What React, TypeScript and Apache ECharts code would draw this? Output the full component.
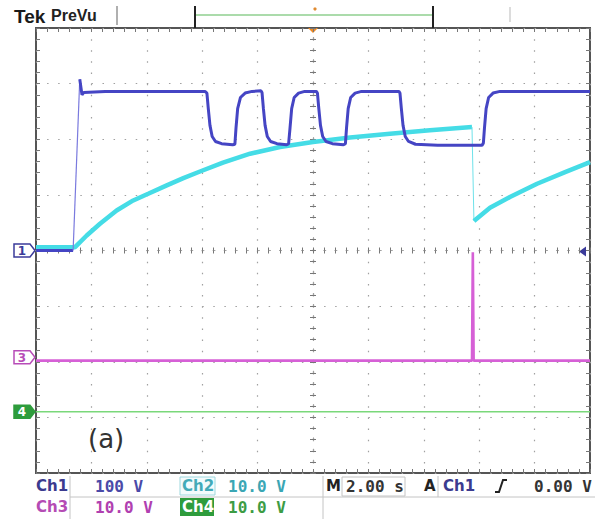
import React, { useEffect, useRef } from "react";
import * as echarts from "echarts";

// Time axis: seconds relative to the trigger point (2.00 s/div, 10 divisions)
const timeMin = -10;
const timeMax = 10;
const timePerDiv = 2;
// Vertical axis in graticule divisions (8 divisions)
const divMin = -4;
const divMax = 4;

// Ch1 (100 V/div) – values in divisions
const ch1Ground: number[][] = [[-10, 0], [-8.66, 0]];
const ch1RisingEdge: number[][] = [[-8.66, 0], [-8.42, 3.08]];
const ch1Pulses: number[][] = [
  [-8.42, 3.08], [-8.34, 2.8], [-8.28, 2.84], [-7.5, 2.86], [-6, 2.86], [-3.9, 2.86],
  [-3.83, 2.83], [-3.78, 2.55], [-3.72, 2.25], [-3.64, 2.05], [-3.52, 1.96], [-3.3, 1.92], [-2.9, 1.9],
  [-2.82, 1.91], [-2.78, 2.2], [-2.72, 2.55], [-2.62, 2.75], [-2.45, 2.83], [-2.2, 2.86], [-1.88, 2.87],
  [-1.84, 2.84], [-1.79, 2.55], [-1.73, 2.25], [-1.65, 2.05], [-1.53, 1.96], [-1.3, 1.92], [-0.95, 1.9],
  [-0.88, 1.92], [-0.83, 2.2], [-0.77, 2.55], [-0.68, 2.75], [-0.52, 2.83], [-0.3, 2.86], [0.12, 2.86],
  [0.16, 2.83], [0.21, 2.55], [0.27, 2.25], [0.35, 2.05], [0.47, 1.96], [0.7, 1.92], [1.1, 1.9],
  [1.17, 1.92], [1.21, 2.2], [1.27, 2.55], [1.36, 2.75], [1.52, 2.83], [1.75, 2.86], [3.1, 2.86],
  [3.14, 2.83], [3.19, 2.55], [3.25, 2.25], [3.33, 2.05], [3.45, 1.96], [3.7, 1.91], [4.5, 1.89], [6.1, 1.89],
  [6.15, 1.93], [6.19, 2.2], [6.25, 2.55], [6.34, 2.75], [6.5, 2.83], [6.75, 2.86], [10, 2.86],
];

// Ch2 (10.0 V/div)
const ch2Charge: number[][] = [
  [-10, 0.06], [-8.59, 0.06], [-8.17, 0.27], [-7.69, 0.48], [-7.09, 0.72], [-6.49, 0.9], [-5.95, 1.02],
  [-5.28, 1.17], [-4.68, 1.3], [-4.08, 1.42], [-3.25, 1.58], [-2.27, 1.74], [-1.19, 1.86], [0, 1.95],
  [1.34, 2.03], [2.78, 2.1], [4.22, 2.16], [5.74, 2.22],
];
const ch2Drop: number[][] = [[5.74, 2.22], [5.81, 0.53]];
const ch2Recharge: number[][] = [
  [5.81, 0.53], [6.39, 0.77], [7.11, 0.96], [8.09, 1.2], [9.1, 1.41], [10, 1.59],
];

// Ch3 (10.0 V/div)
const ch3Trace: number[][] = [[-10, -1.98], [5.74, -1.98], [5.77, -0.03], [5.8, -1.98], [10, -1.98]];
// Ch4 (10.0 V/div)
const ch4Trace: number[][] = [[-10, -2.9], [10, -2.9]];

const markerLabels = ["1", "3", "4"];
const markerLevels = [0, -1.92, -2.9];
const triggerLevel = 0;

const scaleRow1 = ["Ch1", "100 V", "Ch2", "10.0 V"];
const scaleRow2 = ["Ch3", "10.0 V", "Ch4", "10.0 V"];
const timebase = ["M", "2.00 s", "A", "Ch1", "0.00 V"];
const headerTexts = ["Tek", "PreVu"];
const panelLabel = "(a)";

const C1 = "#4545c4";
const C2 = "#45dce6";
const C3 = "#d660d6";
const C4 = "#7ad87a";

const LABEL_FONT = 'bold 15px "DejaVu Sans"';
const VALUE_FONT = 'bold 16px "DejaVu Sans Mono"';

function txt(text: string, x: number, y: number, fill: string, font: string, align = "left") {
  return {
    type: "text",
    x,
    y,
    silent: true,
    style: { text, fill, font, align, textAlign: align, verticalAlign: "middle", textVerticalAlign: "middle" },
  };
}
function ln(x1: number, y1: number, x2: number, y2: number, stroke: string, lineWidth = 1) {
  return { type: "line", silent: true, shape: { x1, y1, x2, y2 }, style: { stroke, lineWidth } };
}

export default function App() {
  const ref = useRef<HTMLDivElement>(null);
  useEffect(() => {
    if (!ref.current) return;
    const chart = echarts.init(ref.current, undefined, { renderer: "svg" });
    const tickStyle = { color: "#777", width: 1 };
    const xBase: any = {
      type: "value",
      min: timeMin,
      max: timeMax,
      interval: timePerDiv,
      axisLabel: { show: false },
      splitLine: { show: false },
      axisLine: { show: false, onZero: false },
      axisTick: { show: true, inside: true, length: 4, lineStyle: tickStyle },
      minorTick: { show: true, splitNumber: 5, length: 4, lineStyle: tickStyle },
    };
    const yBase: any = {
      type: "value",
      min: divMin,
      max: divMax,
      interval: 1,
      axisLabel: { show: false },
      splitLine: { show: false },
      axisLine: { show: false, onZero: false },
      axisTick: { show: true, inside: true, length: 4, lineStyle: tickStyle },
      minorTick: { show: true, splitNumber: 5, length: 4, lineStyle: tickStyle },
    };
    const dotV = { color: "#a0a0a0", width: 1.2, type: [1.5, 9.625] };
    const dotH = { color: "#a0a0a0", width: 1.2, type: [1.5, 9.58] };
    const centerLine = (style: any) => ({ show: true, onZero: true, onZeroAxisIndex: 0, lineStyle: style });

    const lineSeries = (data: number[][], color: string, width: number, z: number) => ({
      type: "line",
      data,
      showSymbol: false,
      symbol: "none",
      silent: true,
      z,
      lineStyle: { color, width },
    });

    chart.setOption({
      animation: false,
      backgroundColor: "#ffffff",
      grid: { left: 36, top: 28, width: 554, height: 445, show: true, borderColor: "#555", borderWidth: 2 },
      xAxis: [
        { ...xBase, position: "bottom", splitLine: { show: true, lineStyle: dotV } },
        { ...xBase, position: "top" },
        { ...xBase, position: "bottom", axisLine: centerLine(dotH), axisTick: { ...xBase.axisTick, inside: true, length: 3 }, minorTick: { ...xBase.minorTick, length: 3 } },
        { ...xBase, position: "bottom", axisLine: centerLine(dotH), axisTick: { ...xBase.axisTick, inside: false, length: 3 }, minorTick: { ...xBase.minorTick, length: 3 } },
      ],
      yAxis: [
        { ...yBase, position: "left", splitLine: { show: true, lineStyle: dotH } },
        { ...yBase, position: "right" },
        { ...yBase, position: "left", axisLine: centerLine(dotV), axisTick: { ...yBase.axisTick, inside: true, length: 3 }, minorTick: { ...yBase.minorTick, length: 3 } },
        { ...yBase, position: "left", axisLine: centerLine(dotV), axisTick: { ...yBase.axisTick, inside: false, length: 3 }, minorTick: { ...yBase.minorTick, length: 3 } },
      ],
      series: [
        lineSeries(ch4Trace, C4, 1.5, 2),
        lineSeries(ch3Trace, C3, 2.6, 3),
        lineSeries(ch2Charge, C2, 4.5, 4),
        lineSeries(ch2Drop, "#6fe2ea", 1, 4),
        lineSeries(ch2Recharge, C2, 4.5, 4),
        lineSeries(ch1Ground, C1, 3, 5),
        lineSeries(ch1RisingEdge, "#7a7ade", 1.2, 5),
        lineSeries(ch1Pulses, C1, 3, 5),
      ],
    });

    const toPx = (x: number, y: number) => chart.convertToPixel({ xAxisIndex: 0, yAxisIndex: 0 }, [x, y]) as number[];
    const markerColors = ["#3b3b9a", "#b84cb8", "#2e9c3c"];
    const graphic: any[] = [];
    markerLevels.forEach((lv, i) => {
      const [, py] = toPx(timeMin, lv);
      const filled = i === 2;
      graphic.push({
        type: "polygon",
        silent: true,
        shape: { points: [[14, py - 6.5], [30, py - 6.5], [35, py], [30, py + 6.5], [14, py + 6.5]] },
        style: { fill: filled ? markerColors[i] : "#ffffff", stroke: markerColors[i], lineWidth: 1.5 },
      });
      graphic.push(txt(markerLabels[i], 22, py + 0.5, filled ? "#ffffff" : markerColors[i], 'bold 12px "DejaVu Sans"', "center"));
    });
    const [rx, ry] = toPx(timeMax, triggerLevel);
    graphic.push({
      type: "polygon",
      silent: true,
      shape: { points: [[rx - 11, ry + 1], [rx - 4, ry - 4], [rx - 4, ry + 6]] },
      style: { fill: "#3b3b9a" },
    });
    const [tx, ty] = toPx(0, divMax);
    graphic.push({
      type: "polygon",
      silent: true,
      shape: { points: [[tx - 5, ty], [tx + 5, ty], [tx, ty + 5]] },
      style: { fill: "#f08a24" },
    });

    // header
    graphic.push(txt(headerTexts[0], 14, 16, "#1a1a1a", 'bold 19px "Liberation Sans"'));
    graphic.push(txt(headerTexts[1], 51, 15, "#222", 'bold 16px "Liberation Sans"'));
    graphic.push(ln(117, 6, 117, 25, "#b0b0b0", 2));
    graphic.push(ln(196, 15, 432, 15, "#8fcf8f", 1.5));
    graphic.push(ln(195, 6, 195, 28, "#222", 2));
    graphic.push(ln(433, 6, 433, 28, "#222", 2));
    graphic.push(ln(510, 7, 510, 22, "#d0d0d0", 1.5));
    graphic.push({ type: "circle", silent: true, shape: { cx: 315, cy: 9, r: 1.6 }, style: { fill: "#e08a30" } });

    // panel label
    graphic.push(txt(panelLabel, 88, 439, "#333", '26px "DejaVu Sans"'));

    // readouts frame
    const frame = "#c4c4c4";
    graphic.push(ln(70, 476, 70, 519, frame));
    graphic.push(ln(70, 497, 595, 497, frame));
    graphic.push(ln(323, 476, 323, 519, frame));
    graphic.push(ln(438, 476, 438, 497, frame));
    graphic.push({ type: "rect", silent: true, shape: { x: 342, y: 477, width: 63, height: 19 }, style: { fill: "none", stroke: frame, lineWidth: 1 } });
    graphic.push({ type: "rect", silent: true, shape: { x: 180, y: 477, width: 35, height: 18 }, style: { fill: "#f3fbfc", stroke: "#9fd8de", lineWidth: 1 } });
    graphic.push({ type: "rect", silent: true, shape: { x: 180, y: 498, width: 34, height: 18 }, style: { fill: "#2e9c3c" } });

    const r1 = 486;
    const r2 = 507;
    graphic.push(txt(scaleRow1[0], 36, r1, "#3b3b8f", LABEL_FONT));
    graphic.push(txt(scaleRow1[1], 95, r1, "#4a4aa8", VALUE_FONT));
    graphic.push(txt(scaleRow1[2], 182, r1, "#43aab8", LABEL_FONT));
    graphic.push(txt(scaleRow1[3], 228, r1, "#3aa6b4", VALUE_FONT));
    graphic.push(txt(scaleRow2[0], 36, r2, "#b44cb4", LABEL_FONT));
    graphic.push(txt(scaleRow2[1], 95, r2, "#b040b0", VALUE_FONT));
    graphic.push(txt(scaleRow2[2], 182, r2, "#ffffff", LABEL_FONT));
    graphic.push(txt(scaleRow2[3], 228, r2, "#3c9c44", VALUE_FONT));

    graphic.push(txt(timebase[0], 326, r1, "#222", LABEL_FONT));
    graphic.push(txt(timebase[1], 346, r1, "#333", VALUE_FONT));
    graphic.push(txt(timebase[2], 424, r1, "#222", LABEL_FONT));
    graphic.push(txt(timebase[3], 443, r1, "#3b3b8f", LABEL_FONT));
    graphic.push({ type: "polyline", silent: true, shape: { points: [[495, 492], [499, 492], [503, 480], [507, 480]] }, style: { stroke: "#222", lineWidth: 2, fill: "none" } });
    graphic.push(txt(timebase[4], 534, r1, "#333", VALUE_FONT));

    chart.setOption({ graphic });
    return () => chart.dispose();
  }, []);
  return (
    <div
      ref={ref}
      style={{ position: "fixed", left: 0, top: 0, width: 595, height: 519, background: "#fff" }}
    />
  );
}
